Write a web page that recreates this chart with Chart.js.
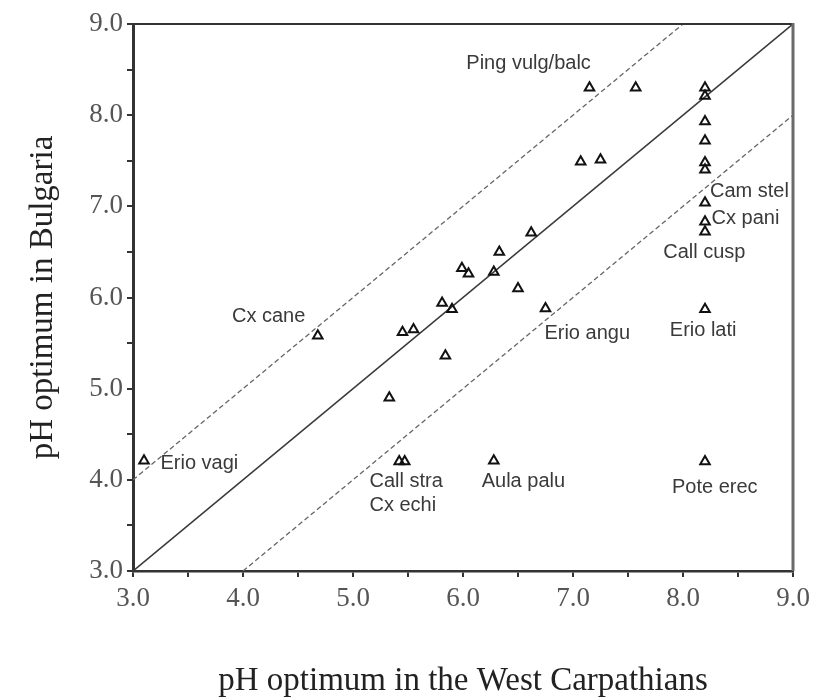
<!DOCTYPE html>
<html>
<head>
<meta charset="utf-8">
<script src="https://cdn.jsdelivr.net/npm/chart.js@4/dist/chart.umd.min.js"></script>
<style>
  html, body { margin: 0; padding: 0; background: #fff; }
  #wrap { width: 817px; height: 698px; }
</style>
</head>
<body>
<div id="wrap"><canvas id="chart" width="817" height="698"></canvas></div>
<script>
/* ── data: species optima (West Carpathians x, Bulgaria y) ── */
const westCarp = [3.10, 4.68, 5.45, 5.55, 5.33, 5.81, 5.90, 5.84, 5.99, 6.05, 6.28,
                  6.33, 6.50, 6.62, 6.75, 7.15, 7.57, 8.20, 8.20, 8.20, 8.20, 8.20,
                  8.20, 7.07, 7.25, 8.20, 8.20, 8.20, 8.20, 8.20, 6.28, 5.42, 5.47];
const bulgaria = [4.21, 5.58, 5.62, 5.65, 4.90, 5.94, 5.87, 5.36, 6.32, 6.26, 6.28,
                  6.50, 6.10, 6.71, 5.88, 8.30, 8.30, 8.30, 8.21, 7.93, 7.72, 7.48,
                  7.40, 7.49, 7.51, 7.04, 6.83, 6.72, 5.87, 4.20, 4.21, 4.20, 4.20];

// 1:1 line and ±1 pH unit bands
const oneToOne = [[3, 3], [9, 9]];
const upperBand = [[3, 4], [8, 9]];
const lowerBand = [[4, 3], [9, 8]];

// species labels: text, anchor (left edge, middle) in data units
const labelText = ['Ping vulg/balc', 'Cam stel', 'Cx pani', 'Call cusp', 'Cx cane', 'Erio vagi',
                   'Erio angu', 'Erio lati', 'Call stra', 'Cx echi', 'Aula palu', 'Pote erec'];
const labelX = [6.03, 8.245, 8.26, 7.82, 3.90, 3.25, 6.74, 7.88, 5.15, 5.15, 6.17, 7.90];
const labelY = [8.57, 7.16, 6.87, 6.49, 5.79, 4.18, 5.60, 5.64, 3.98, 3.72, 3.98, 3.92];

const axisMin = 3, axisMax = 9, tickStep = 0.5;

const toXY = arr => arr.map(p => ({x: p[0], y: p[1]}));
const isMajor = v => Math.abs(v - Math.round(v)) < 1e-6;

/* ── plugins: frame on top/right, species labels ── */
const framePlugin = {
  id: 'frame',
  afterDraw(chart) {
    const {ctx, chartArea: a} = chart;
    ctx.save();
    ctx.strokeStyle = '#333';
    ctx.lineWidth = 2;
    ctx.beginPath();
    ctx.moveTo(a.left, a.top);
    ctx.lineTo(a.right, a.top);
    ctx.stroke();
    ctx.strokeStyle = '#6a6a6a';
    ctx.lineWidth = 3;
    ctx.beginPath();
    ctx.moveTo(a.right, a.top - 1);
    ctx.lineTo(a.right, a.bottom);
    ctx.stroke();
    ctx.restore();
  }
};

const labelPlugin = {
  id: 'speciesLabels',
  afterDatasetsDraw(chart) {
    const {ctx, scales: {x, y}} = chart;
    ctx.save();
    ctx.font = '20px "Liberation Sans", Arial, sans-serif';
    ctx.fillStyle = '#3a3a3a';
    ctx.textAlign = 'left';
    ctx.textBaseline = 'middle';
    labelText.forEach((t, i) => {
      ctx.fillText(t, x.getPixelForValue(labelX[i]), y.getPixelForValue(labelY[i]));
    });
    ctx.restore();
  }
};

const tickFont = { family: '"Liberation Serif", "Times New Roman", serif', size: 27 };
const titleFont = { family: '"Liberation Serif", "Times New Roman", serif', size: 33, lineHeight: 1 };

new Chart(document.getElementById('chart'), {
  type: 'scatter',
  data: {
    datasets: [
      {
        data: westCarp.map((v, i) => ({x: v, y: bulgaria[i]})),
        pointStyle: 'triangle',
        radius: 5.5,
        borderWidth: 2,
        borderColor: '#111',
        backgroundColor: 'rgba(0,0,0,0)'
      },
      {
        type: 'line',
        data: toXY(oneToOne),
        borderColor: '#3a3a3a',
        borderWidth: 1.6,
        pointRadius: 0
      },
      {
        type: 'line',
        data: toXY(upperBand),
        borderColor: '#666',
        borderWidth: 1.3,
        borderDash: [5, 3],
        pointRadius: 0
      },
      {
        type: 'line',
        data: toXY(lowerBand),
        borderColor: '#666',
        borderWidth: 1.3,
        borderDash: [5, 3],
        pointRadius: 0
      }
    ]
  },
  options: {
    responsive: false,
    animation: false,
    layout: { padding: { left: 0, top: 24, right: 24, bottom: 0 } },
    plugins: { legend: { display: false }, tooltip: { enabled: false } },
    scales: {
      x: {
        type: 'linear',
        min: axisMin, max: axisMax,
        afterFit: s => { s.height = 127; },
        border: { display: true, color: '#333', width: 2.5 },
        grid: { drawOnChartArea: false, drawTicks: true, tickLength: 6, color: '#333', lineWidth: 2 },
        ticks: {
          stepSize: tickStep, autoSkip: false, maxRotation: 0, padding: 6,
          color: '#555', font: tickFont,
          callback: v => isMajor(v) ? v.toFixed(1) : ''
        },
        title: {
          display: true, text: 'pH optimum in the West Carpathians',
          color: '#222', font: titleFont, padding: { top: 0, bottom: 0 }
        }
      },
      y: {
        type: 'linear',
        min: axisMin, max: axisMax,
        afterFit: s => { s.width = 133; },
        border: { display: true, color: '#333', width: 3 },
        grid: { drawOnChartArea: false, drawTicks: true, tickLength: 6, color: '#333', lineWidth: 2 },
        ticks: {
          stepSize: tickStep, autoSkip: false, padding: 4,
          color: '#555', font: tickFont,
          callback: v => isMajor(v) ? v.toFixed(1) : ''
        },
        title: {
          display: true, text: 'pH optimum in Bulgaria',
          color: '#222', font: titleFont, padding: { top: 27, bottom: 0 }
        }
      }
    }
  },
  plugins: [framePlugin, labelPlugin]
});
</script>
</body>
</html>
